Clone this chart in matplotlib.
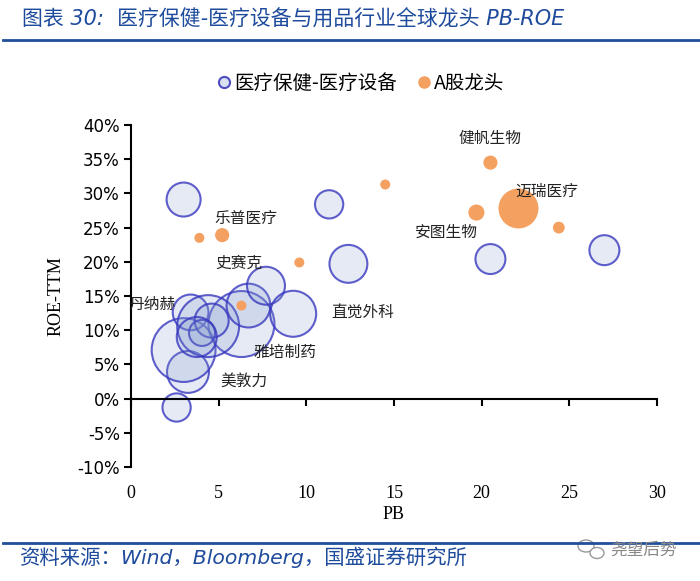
import matplotlib
matplotlib.use("Agg")
import matplotlib.pyplot as plt
from matplotlib.lines import Line2D
from matplotlib.patches import Ellipse
from matplotlib.ticker import PercentFormatter

plt.rcParams['font.family'] = ['DejaVu Sans', 'Noto Sans CJK SC']
plt.rcParams['axes.unicode_minus'] = False
CJK = ['Noto Sans CJK SC', 'DejaVu Sans']

# global medical device leaders: PB, ROE-TTM (%), relative market cap
gl_pb = [3.0, 11.3, 12.4, 20.5, 27.0, 2.6, 3.25, 3.0, 6.3, 3.4, 4.4, 4.6, 4.05, 3.75, 6.7, 7.7, 9.25]
gl_roe = [29.1, 28.4, 19.7, 20.4, 21.7, -1.3, 3.9, 7.1, 10.9, 12.6, 10.6, 11.4, 9.6, 9.0, 13.6, 16.5, 12.4]
gl_cap = [2.9, 2.0, 3.6, 2.25, 2.25, 2.0, 4.4, 10.2, 10.9, 3.2, 9.6, 2.9, 1.7, 4.0, 4.8, 3.6, 5.3]

# A-share leaders
a_pb = [3.9, 5.2, 9.6, 14.5, 20.5, 19.7, 22.1, 24.4, 6.3]
a_roe = [23.5, 23.9, 19.9, 31.3, 34.5, 27.2, 27.8, 25.0, 13.6]
a_cap = [0.25, 0.5, 0.25, 0.25, 0.5, 0.65, 4.0, 0.35, 0.25]

# label text and anchor (PB, ROE%)
lab_text = ['健帆生物', '迈瑞医疗', '安图生物', '乐普医疗', '史赛克', '丹纳赫', '直觉外科', '雅培制药', '美敦力']
lab_x = [20.5, 23.7, 18.0, 6.56, 6.16, 1.2, 13.2, 8.8, 6.45]
lab_y = [38.1, 30.3, 24.3, 26.3, 19.8, 13.7, 12.5, 6.7, 2.5]

XTICKS = [0, 5, 10, 15, 20, 25, 30]
YTICKS = [-10, -5, 0, 5, 10, 15, 20, 25, 30, 35, 40]

BLUE_TXT = '#1E4B9C'
BUBBLE_SCALE = 207.0

fig = plt.figure(figsize=(7.0, 5.81), dpi=100)
ax = fig.add_axes([131 / 700, 1 - 467 / 581, 526 / 700, 342 / 581])

ax.scatter(gl_pb, gl_roe, s=[c * BUBBLE_SCALE for c in gl_cap],
           facecolor=(0.5, 0.6, 0.8, 0.2), edgecolor=(0.22, 0.22, 0.75, 0.8),
           linewidth=1.5, zorder=2)
ax.scatter(a_pb, a_roe, s=[c * BUBBLE_SCALE for c in a_cap],
           color='#F4A060', linewidth=0, zorder=3)

for t, x, y in zip(lab_text, lab_x, lab_y):
    ax.text(x, y, t, ha='center', va='center', fontsize=11.3, color='#222222',
            family=CJK, zorder=4)

ax.set_xlim(0, 30)
ax.set_ylim(-10, 40)
ax.set_yticks(YTICKS)
ax.yaxis.set_major_formatter(PercentFormatter(xmax=100, decimals=0))
ax.set_xticks(XTICKS)
ax.spines['top'].set_visible(False)
ax.spines['right'].set_visible(False)
ax.spines['bottom'].set_position(('data', 0))
for sp in ('left', 'bottom'):
    ax.spines[sp].set_linewidth(1.5)
    ax.spines[sp].set_color('black')
ax.tick_params(axis='x', direction='out', length=5, width=1.5, labelbottom=False)
ax.tick_params(axis='y', direction='out', length=5, width=1.5, labelsize=12, pad=3)
ax.set_ylabel('ROE-TTM', family='Liberation Serif', fontsize=13, labelpad=9)

sec = ax.secondary_xaxis('bottom')
sec.set_xticks(XTICKS)
sec.spines['bottom'].set_visible(False)
sec.tick_params(length=0, pad=13)
for lbl in sec.get_xticklabels():
    lbl.set_family('Liberation Serif')
    lbl.set_fontsize(13)
sec.set_xlabel('PB', family='Liberation Serif', fontsize=13, labelpad=3)

handles = [Line2D([], [], ls='none', marker='o', ms=8, mfc=(0.85, 0.88, 0.95),
                  mec=(0.3, 0.3, 0.75), mew=1.5),
           Line2D([], [], ls='none', marker='o', ms=8, mfc='#F4A060', mec='#F4A060')]
fig.legend(handles, ['医疗保健-医疗设备', 'A股龙头'], loc='center',
           bbox_to_anchor=(0.515, 1 - 83 / 581), ncol=2, frameon=False,
           prop={'family': CJK, 'size': 14}, handletextpad=0.1,
           columnspacing=1.0, handlelength=0.8)

fig.text(22 / 700, 1 - 20 / 581, '图表 30:  医疗保健-医疗设备与用品行业全球龙头 PB-ROE',
         fontsize=15, color=BLUE_TXT, style='italic', va='center', ha='left')
fig.add_artist(Line2D([3 / 700, 1.0], [1 - 40 / 581] * 2, color='#1F4E9A', lw=2))
fig.add_artist(Line2D([3 / 700, 1.0], [1 - 543 / 581] * 2, color='#1F4E9A', lw=2))
fig.text(20 / 700, 1 - 557 / 581, '资料来源：Wind，Bloomberg，国盛证券研究所',
         fontsize=14.7, color=BLUE_TXT, style='italic', va='center', ha='left')

# watermark
for cx, cy, w, h in [(586, 546, 16, 12), (597, 553, 14, 11)]:
    fig.add_artist(Ellipse((cx / 700, 1 - cy / 581), w / 700, h / 581,
                           transform=fig.transFigure, fill=True, facecolor='white',
                           edgecolor='#999999', lw=1))
fig.text(610 / 700, 1 - 550 / 581, '尧望后势', fontsize=12, color='#888888',
         family=CJK, va='center', ha='left')

fig.savefig('out.png', dpi=100)
